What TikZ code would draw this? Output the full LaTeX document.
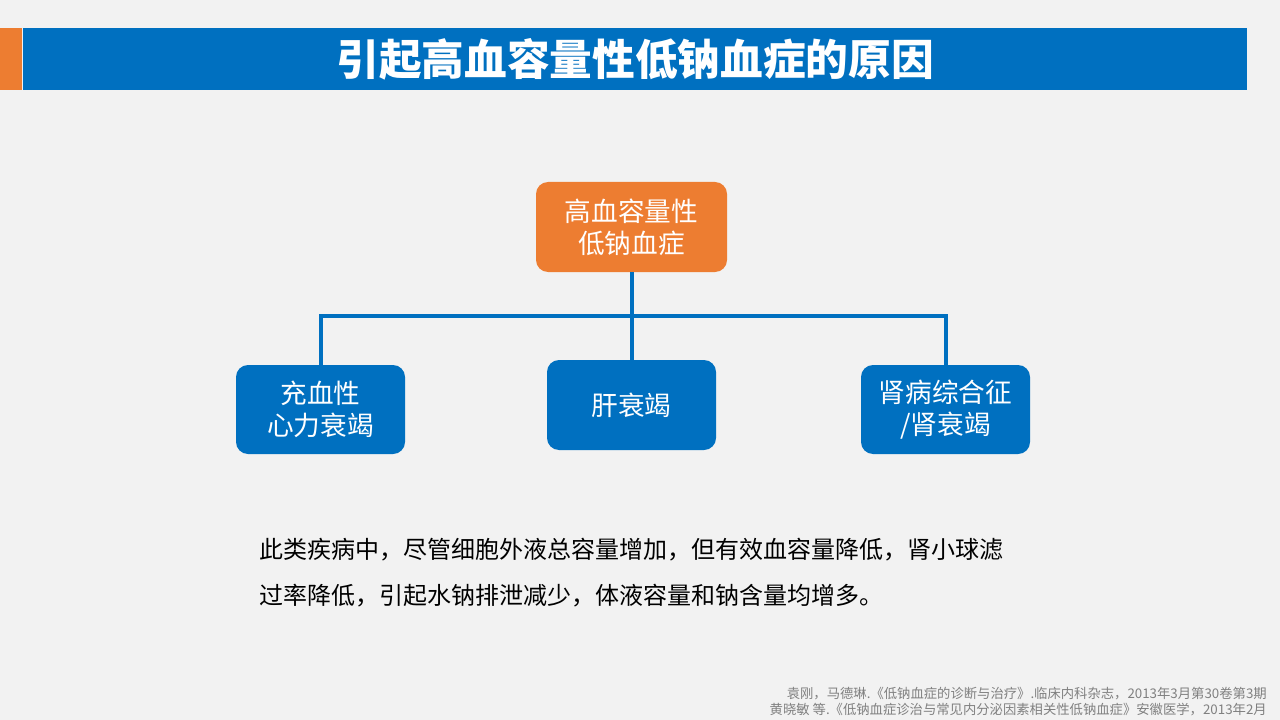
\documentclass[tikz,border=0pt]{standalone}
\usepackage{fontspec}
\setmainfont{Noto Sans CJK SC}
\newfontfamily\cjk{Noto Sans CJK SC}
\newfontfamily\cjkblack{Noto Sans CJK SC Black}
\definecolor{bgc}{HTML}{F2F2F2}
\definecolor{pptblue}{HTML}{0070C0}
\definecolor{pptorange}{HTML}{ED7D31}
\definecolor{notegray}{HTML}{808080}
\tikzset{
  box/.style={rounded corners=12*0.75pt, text=white, align=center, inner sep=0pt,
    font=\cjk\fontsize{20pt}{24pt}\selectfont},
  bluebox/.style={box, fill=pptblue, minimum width=169*0.75pt, minimum height=89*0.75pt},
  orangebox/.style={box, fill=pptorange, minimum width=191*0.75pt, minimum height=90*0.75pt},
  link/.style={draw=pptblue, line width=3pt}
}
\begin{document}
\begin{tikzpicture}[x=0.75pt,y=-0.75pt]
\useasboundingbox (0,0) rectangle (1280,720);
\fill[bgc] (0,0) rectangle (1280,720);
\fill[pptorange] (0,28) rectangle (22,90);
\fill[pptblue] (23,28) rectangle (1247,90);
\node[text=white, font=\cjkblack\fontsize{32pt}{36pt}\selectfont] (title) at (635,59) {引起高血容量性低钠血症的原因};

\node[orangebox] (top) at (631.5,227) {高血容量性\\低钠血症};
\node[bluebox] (left) at (320.5,409.5) {充血性\\心力衰竭};
\node[bluebox, minimum height=90*0.75pt] (mid) at (631.5,405) {肝衰竭};
\node[bluebox] (right) at (945.5,409.5) {肾病综合征\\/肾衰竭};

\coordinate (bus) at (631.5,316);
\draw[link] (top.south) -- (mid.north);
\draw[link] (left.north) |- (bus) -| (right.north);

\node[anchor=north west, align=left, inner sep=0pt, text=black,
  font=\cjk\fontsize{18pt}{34.5pt}\selectfont] (para) at (259,538)
  {此类疾病中，尽管细胞外液总容量增加，但有效血容量降低，肾小球滤\\过率降低，引起水钠排泄减少，体液容量和钠含量均增多。};

\node[anchor=south east, align=right, inner sep=0pt, text=notegray,
  font=\cjk\fontsize{10pt}{12pt}\selectfont] (note) at (1267,716)
  {袁刚，马德琳.《低钠血症的诊断与治疗》.临床内科杂志，2013年3月第30卷第3期\\黄晓敏 等.《低钠血症诊治与常见内分泌因素相关性低钠血症》安徽医学，2013年2月};
\end{tikzpicture}
\end{document}
